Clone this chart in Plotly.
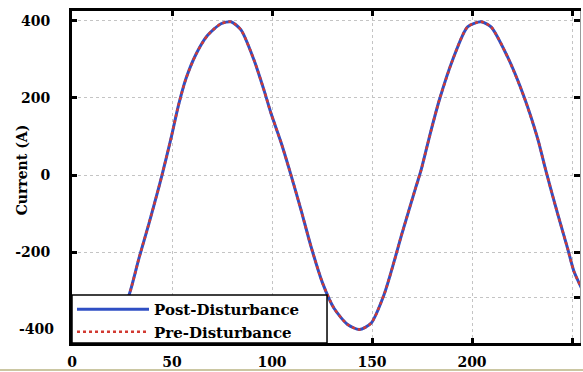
import plotly.graph_objects as go

# Time axis samples (x) and current samples (A)
time_ms = [0, 8, 16, 22, 28.5, 33.5, 38.5, 43.2, 45, 49.5, 53.2, 57, 62, 67.8,
           74.5, 79.5, 84.5, 91, 96, 99.5, 104.5, 109.5, 114.5, 119.5, 125.3,
           131, 137.8, 143.7, 149.5, 156, 161, 164.5, 172, 174.5, 179, 183.7,
           190.3, 197.8, 204.5, 209.5, 217.8, 226, 232.8, 237, 242.8, 247.8,
           251, 256]
post_disturbance = [-315, -375, -400, -385, -311, -215, -125, -36, 0, 95, 180,
                    250, 313, 362, 392, 397, 376, 298, 220, 160, 85, 0, -90,
                    -185, -280, -345, -387, -400, -384, -310, -225, -160, -30,
                    12, 105, 195, 298, 384, 397, 384, 306, 203, 95, 10, -100,
                    -190, -250, -306]
pre_disturbance = [-315, -375, -400, -385, -311, -215, -125, -36, 0, 95, 180,
                   250, 313, 362, 392, 397, 376, 298, 220, 160, 85, 0, -90,
                   -185, -280, -345, -387, -400, -384, -310, -225, -160, -30,
                   12, 105, 195, 298, 384, 397, 384, 306, 203, 95, 10, -100,
                   -190, -250, -306]

x_ticks = [0, 50, 100, 150, 200, 250]
y_grid = [400, 200, 0, -200, -318]
y_labels = ["400", "200", "0", "-200", ""]

SERIF = "DejaVu Serif"
X_RANGE = [0, 254]
Y_RANGE = [-435, 425]

fig = go.Figure()
fig.add_trace(go.Scatter(x=time_ms, y=post_disturbance, mode="lines",
                         name="Post-Disturbance",
                         line=dict(color="#2f4fc4", width=3, shape="spline",
                                   smoothing=0.7)))
fig.add_trace(go.Scatter(x=time_ms, y=pre_disturbance, mode="lines",
                         name="Pre-Disturbance",
                         line=dict(color="#d23a32", width=2.5, dash="dot",
                                   shape="spline", smoothing=0.7)))
# empty trace that anchors the right-hand axis
fig.add_trace(go.Scatter(x=[], y=[], yaxis="y2", showlegend=False,
                         hoverinfo="skip"))


def tfont(size):
    return dict(family=SERIF, size=size, color="black", weight="bold")


fig.update_layout(
    width=583, height=372,
    margin=dict(l=72, r=3, t=11, b=29),
    plot_bgcolor="white", paper_bgcolor="white",
    showlegend=True,
    legend=dict(x=0, y=0.068, xanchor="left", yanchor="middle",
                bgcolor="rgba(0,0,0,0)", borderwidth=0,
                font=tfont(15), tracegroupgap=0, itemwidth=72),
    xaxis=dict(range=X_RANGE, tickvals=x_ticks, showline=True, linecolor="black",
               linewidth=3, mirror="ticks", ticks="inside", ticklen=5,
               tickwidth=3, tickcolor="black", showgrid=True,
               gridcolor="#c4c4c4", griddash="dot", gridwidth=1,
               zeroline=False, tickfont=tfont(14), ticklabelstandoff=4),
    yaxis=dict(range=Y_RANGE, tickvals=y_grid, ticktext=y_labels,
               showline=True, linecolor="black", linewidth=3,
               ticks="inside", ticklen=5, tickwidth=3, tickcolor="black",
               showgrid=True, gridcolor="#c4c4c4", griddash="dot",
               gridwidth=1, zeroline=False, tickfont=tfont(14),
               ticklabelstandoff=16),
    yaxis2=dict(range=Y_RANGE, overlaying="y", side="right", anchor="x",
                tickvals=y_grid, showticklabels=False, showline=True,
                linecolor="#9a9a9a", linewidth=1, ticks="inside", ticklen=6,
                tickwidth=3, tickcolor="black", showgrid=False,
                zeroline=False),
    annotations=[
        dict(text="-400", x=0, y=-400, xref="paper", yref="y",
             xanchor="right", yanchor="middle", xshift=-16,
             showarrow=False, font=tfont(14)),
        dict(text="Current (A)", x=-50 / 508, y=0.52, xref="paper",
             yref="paper", xanchor="center", yanchor="middle",
             textangle=-90, showarrow=False, font=tfont(14)),
    ],
    shapes=[
        # legend frame
        dict(type="rect", xref="paper", yref="paper", x0=0, x1=0.502,
             y0=0, y1=0.1446, fillcolor="white", layer="above",
             line=dict(color="black", width=1.5)),
        dict(type="line", xref="paper", yref="paper",
             x0=-0.15, x1=1.01, y0=-0.0813, y1=-0.0813,
             line=dict(color="#cbc7a2", width=2)),
    ],
)

fig.write_html("out.html")
